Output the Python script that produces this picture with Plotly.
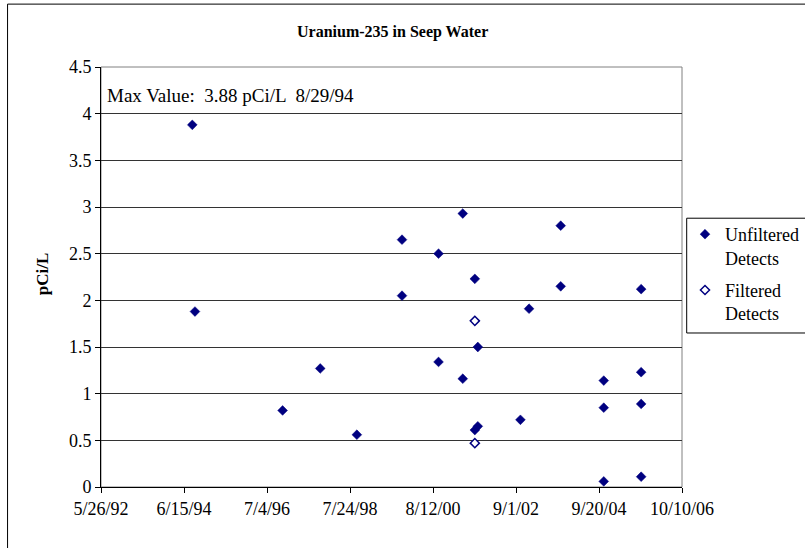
import plotly.graph_objects as go

# Sample dates and U-235 activity (pCi/L)
unfiltered_dates = [
    "1994-08-29", "1994-09-22", "1996-11-22", "1997-10-28", "1998-09-24",
    "1999-11-06", "1999-11-06", "2000-10-01", "2000-10-01", "2001-05-08",
    "2001-05-08", "2001-08-25", "2001-09-21", "2001-08-25", "2001-09-21",
    "2002-10-11", "2002-12-28", "2003-10-10", "2003-10-10", "2004-11-02",
    "2004-11-02", "2004-11-02", "2005-10-06", "2005-10-06", "2005-10-06",
    "2005-10-06",
]
unfiltered_values = [
    3.88, 1.88, 0.82, 1.27, 0.56,
    2.65, 2.05, 2.50, 1.34, 2.93,
    1.16, 2.23, 1.50, 0.61, 0.65,
    0.72, 1.91, 2.80, 2.15, 1.14,
    0.85, 0.06, 2.12, 1.23, 0.89,
    0.11,
]
filtered_dates = ["2001-08-25", "2001-08-25"]
filtered_values = [1.78, 0.47]

x_tick_dates = ["1992-05-26", "1994-06-15", "1996-07-04", "1998-07-24",
                "2000-08-12", "2002-09-01", "2004-09-20", "2006-10-10"]
x_tick_labels = ["5/26/92", "6/15/94", "7/4/96", "7/24/98",
                 "8/12/00", "9/1/02", "9/20/04", "10/10/06"]

NAVY = "#000080"
FONT = "Liberation Serif"

# plot-area geometry in pixels
W, H = 805, 548
L, R, T, B = 101, 682.3, 66.5, 487.3
PW, PH = R - L, B - T


def px(x):
    return (x - L) / PW


def py(y):
    return (B - y) / PH


fig = go.Figure()
fig.add_trace(go.Scatter(
    x=unfiltered_dates, y=unfiltered_values, mode="markers",
    name="Unfiltered<br>Detects", legendgroup="unfiltered",
    marker=dict(symbol="diamond", size=7.5, color=NAVY,
                line=dict(width=0.5, color=NAVY)),
))
fig.add_trace(go.Scatter(
    x=filtered_dates, y=filtered_values, mode="markers",
    name="Filtered<br>Detects", legendgroup="filtered",
    marker=dict(symbol="diamond", size=7, color="white",
                line=dict(width=1.5, color=NAVY)),
))

shapes = [
    # plot area frame
    dict(type="rect", xref="paper", yref="paper", x0=0, x1=1, y0=0, y1=1,
         line=dict(color="#808080", width=1), layer="below"),
    # outer chart border
    dict(type="rect", xref="paper", yref="paper",
         x0=px(7.5), x1=px(W + 40), y0=py(H + 40), y1=py(3.5),
         line=dict(color="black", width=1)),
    # legend box
    dict(type="rect", xref="paper", yref="paper",
         x0=px(687), x1=px(W + 30), y0=py(333), y1=py(218),
         line=dict(color="black", width=1)),
]

annotations = [
    dict(text="<b>Uranium-235 in Seep Water</b>", xref="paper", yref="paper",
         x=px(393), y=py(31), xanchor="center", yanchor="middle",
         showarrow=False, font=dict(family=FONT, size=16, color="black")),
    dict(text="<b>pCi/L</b>", xref="paper", yref="paper",
         x=px(42), y=py(274), xanchor="center", yanchor="middle",
         textangle=-90, showarrow=False,
         font=dict(family=FONT, size=17, color="black")),
    dict(text="Max Value:  3.88 pCi/L  8/29/94", xref="paper", yref="paper",
         x=px(105), y=py(95), xanchor="left", yanchor="middle",
         showarrow=False, font=dict(family=FONT, size=19, color="black")),
]

fig.update_layout(
    width=W, height=H,
    margin=dict(l=L, r=W - R, t=T, b=H - B, pad=0, autoexpand=False),
    paper_bgcolor="white", plot_bgcolor="white",
    font=dict(family=FONT, size=17, color="black"),
    showlegend=True,
    legend=dict(
        xref="container", yref="container",
        x=685 / W, y=1 - 216 / H, xanchor="left", yanchor="top",
        font=dict(family=FONT, size=18, color="black"),
        bgcolor="rgba(0,0,0,0)", borderwidth=0, valign="top",
        itemwidth=30, tracegroupgap=6,
    ),
    shapes=shapes,
    annotations=annotations,
)

fig.update_xaxes(
    type="date", range=[x_tick_dates[0], x_tick_dates[-1]],
    tickmode="array", tickvals=x_tick_dates, ticktext=x_tick_labels,
    showgrid=False, zeroline=False,
    showline=True, linecolor="black", linewidth=1,
    ticks="outside", ticklen=5, tickcolor="black",
    tickfont=dict(family=FONT, size=18, color="black"),
    automargin=False,
)
fig.update_yaxes(
    range=[0, 4.5], dtick=0.5, tick0=0,
    showgrid=True, gridcolor="#333333", gridwidth=1,
    zeroline=False,
    showline=True, linecolor="black", linewidth=1,
    ticks="outside", ticklen=5, tickcolor="black",
    tickfont=dict(family=FONT, size=18, color="black"),
    automargin=False,
)

fig.write_html("out.html")
